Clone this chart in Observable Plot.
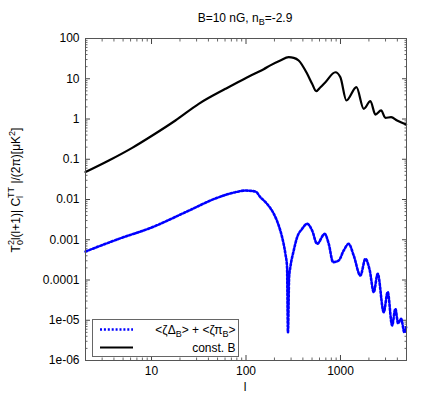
<!DOCTYPE html>
<html>
<head>
<meta charset="utf-8">
<script src="https://cdn.jsdelivr.net/npm/d3@7"></script>
<script src="https://cdn.jsdelivr.net/npm/@observablehq/plot@0.6"></script>
<style>
  html, body { margin: 0; padding: 0; background: white; }
  #chart { width: 429px; height: 401px; }
</style>
</head>
<body>
<div id="chart"></div>
<script>
// ---- data ----
const constL = [2, 3.53, 6.24, 10.2, 17.9, 31.6, 60.6, 100, 126, 154, 181, 231, 283, 320, 361, 444, 501, 553, 614, 693, 884, 998, 1156, 1475, 1762, 2075, 2343, 2692, 2991, 3436, 3975, 4955];
const constV = [0.048, 0.093, 0.192, 0.389, 0.918, 2.38, 5.62, 10.5, 13.7, 17.3, 21.5, 28.4, 34.3, 33.1, 28.4, 13.3, 7.5, 4.9, 6.17, 8.2, 14.5, 10.9, 2.88, 6.17, 1.79, 2.77, 1.29, 1.63, 1.07, 1.11, 0.92, 0.73];

const sumL = [2, 4.5, 10.2, 22.9, 51.5, 77.3, 98, 126, 142, 167, 197, 222, 241, 261, 272, 278, 286, 295, 320, 348, 393, 444, 501, 566, 681, 751, 836, 958, 1082, 1222, 1381, 1626, 1837, 2042, 2250, 2479, 2870, 3162, 3521, 3812, 4074, 4385, 4753, 4955];
const sumV = [0.00051, 0.00105, 0.00205, 0.00484, 0.0114, 0.0152, 0.0167, 0.0158, 0.0114, 0.0078, 0.0044, 0.00226, 0.00116, 0.00045, 0.00021, 0.000005, 0.000117, 0.00021, 0.00054, 0.00116, 0.00187, 0.0025, 0.0017, 0.00079, 0.0014, 0.00079, 0.000277, 0.000305, 0.00054, 0.00079, 0.000406, 0.000129, 0.000336, 0.000172, 0.00005, 0.000143, 0.0000158, 0.00005, 0.0000074, 0.0000192, 0.0000084, 0.0000109, 0.000005, 0.0000067];

const xTicks = [10, 100, 1000];
const xTickLabels = ["10", "100", "1000"];
const yTicks = [1e-6, 1e-5, 1e-4, 1e-3, 1e-2, 1e-1, 1, 10, 100];
const yTickLabels = ["1e-06", "1e-05", "0.0001", "0.001", "0.01", "0.1", "1", "10", "100"];

const seriesNames = ["<ζΔB> + <ζπB>", "const. B"];

// minor ticks
const xMinor = [];
for (let e = 0; e <= 3; e++) for (let m = 2; m <= 9; m++) { const v = m * 10 ** e; if (v >= 2 && v <= 5000) xMinor.push(v); }
const yMinor = [];
for (let e = -6; e <= 1; e++) for (let m = 2; m <= 9; m++) yMinor.push(m * 10 ** e);

const constData = constL.map((l, i) => ({l, v: constV[i]}));
const sumData = sumL.map((l, i) => ({l, v: sumV[i]}));

const FONT = "'Liberation Sans', Arial, Helvetica, sans-serif";
const DOTS = "2,1.9";
const fmtX = d => xTickLabels[xTicks.indexOf(d)];
const fmtY = d => yTickLabels[yTicks.findIndex(t => Math.abs(Math.log10(t) - Math.log10(d)) < 1e-6)];

const chart = Plot.plot({
  width: 429,
  height: 401,
  marginLeft: 85,
  marginRight: 23,
  marginTop: 38,
  marginBottom: 41,
  style: {fontFamily: FONT, fontSize: "12px", color: "black", background: "white"},
  x: {type: "log", domain: [2, 5000]},
  y: {type: "log", domain: [1e-6, 100]},
  marks: [
    // labels
    Plot.axisX(xTicks, {anchor: "bottom", tickSize: 0, tickPadding: 6, tickFormat: fmtX, label: null}),
    Plot.axisY(yTicks, {anchor: "left", tickSize: 0, tickPadding: 6, tickFormat: fmtY, label: null}),
    // inward major ticks
    Plot.axisX(xTicks, {anchor: "bottom", tickSize: -5, text: null, label: null, stroke: "#444"}),
    Plot.axisX(xTicks, {anchor: "top", tickSize: -5, text: null, label: null, stroke: "#444"}),
    Plot.axisY(yTicks, {anchor: "left", tickSize: -5, text: null, label: null, stroke: "#444"}),
    Plot.axisY(yTicks, {anchor: "right", tickSize: -5, text: null, label: null, stroke: "#444"}),
    // inward minor ticks
    Plot.axisX(xMinor, {anchor: "bottom", tickSize: -2.5, text: null, label: null, stroke: "#666"}),
    Plot.axisX(xMinor, {anchor: "top", tickSize: -2.5, text: null, label: null, stroke: "#666"}),
    Plot.axisY(yMinor, {anchor: "left", tickSize: -2.5, text: null, label: null, stroke: "#666"}),
    Plot.axisY(yMinor, {anchor: "right", tickSize: -2.5, text: null, label: null, stroke: "#666"}),
    // curves
    Plot.line(constData, {x: "l", y: "v", stroke: "black", strokeWidth: 2.2, curve: "monotone-x"}),
    Plot.line(sumData, {x: "l", y: "v", stroke: "#0000ff", strokeWidth: 2.6, strokeDasharray: DOTS, curve: "monotone-x"}),
    Plot.frame({stroke: "#555", strokeWidth: 1})
  ]
});

document.getElementById("chart").appendChild(chart);

// ---- texts with sub/superscripts, and legend ----
const svg = d3.select(chart);

function richText(g, x, y, parts, opts = {}) {
  const t = g.append("text")
    .attr("x", x).attr("y", y)
    .attr("font-family", FONT)
    .attr("font-size", opts.size || 12)
    .attr("fill", "black")
    .attr("text-anchor", opts.anchor || "start");
  if (opts.transform) t.attr("transform", opts.transform);
  for (const p of parts) {
    const s = t.append("tspan").text(p.t);
    if (p.dy) s.attr("dy", p.dy);
    if (p.dx) s.attr("dx", p.dx);
    if (p.size) s.attr("font-size", p.size);
  }
  return t;
}

// title
richText(svg, 245, 22, [
  {t: "B=10 nG, n"}, {t: "B", dy: 3, size: 9}, {t: "=-2.9", dy: -3}
], {anchor: "middle", size: 12});

// x label
richText(svg, 245, 391, [{t: "l"}], {anchor: "middle", size: 12});

// y label (rotated)
richText(svg, 0, 0, [
  {t: "T"}, {t: "0", dy: 3, size: 9}, {t: "2", dx: -5, dy: -9, size: 9},
  {t: "l(l+1)| C", dy: 6}, {t: "l", dy: 3, size: 9}, {t: "TT", dx: -2, dy: -9, size: 9},
  {t: " |/(2π)[μK", dy: 6}, {t: "2", dy: -5, size: 9}, {t: "]", dy: 5}
], {anchor: "middle", size: 12, transform: "translate(20,190) rotate(-90)"});

// legend
const lg = svg.append("g");
lg.append("rect").attr("x", 92.5).attr("y", 319.5).attr("width", 146).attr("height", 37)
  .attr("fill", "white").attr("stroke", "#666").attr("stroke-width", 1);
lg.append("line").attr("x1", 100).attr("x2", 133).attr("y1", 329.5).attr("y2", 329.5)
  .attr("stroke", "#0000ff").attr("stroke-width", 2.6).attr("stroke-dasharray", DOTS);
lg.append("line").attr("x1", 100).attr("x2", 133).attr("y1", 347.5).attr("y2", 347.5)
  .attr("stroke", "black").attr("stroke-width", 2.2);
richText(lg, 235.5, 333.5, [
  {t: "<ζΔ"}, {t: "B", dy: 3, size: 9}, {t: "> + <ζπ", dy: -3}, {t: "B", dy: 3, size: 9}, {t: ">", dy: -3}
], {anchor: "end", size: 12});
richText(lg, 235.5, 352, [{t: seriesNames[1]}], {anchor: "end", size: 12});
</script>
</body>
</html>
